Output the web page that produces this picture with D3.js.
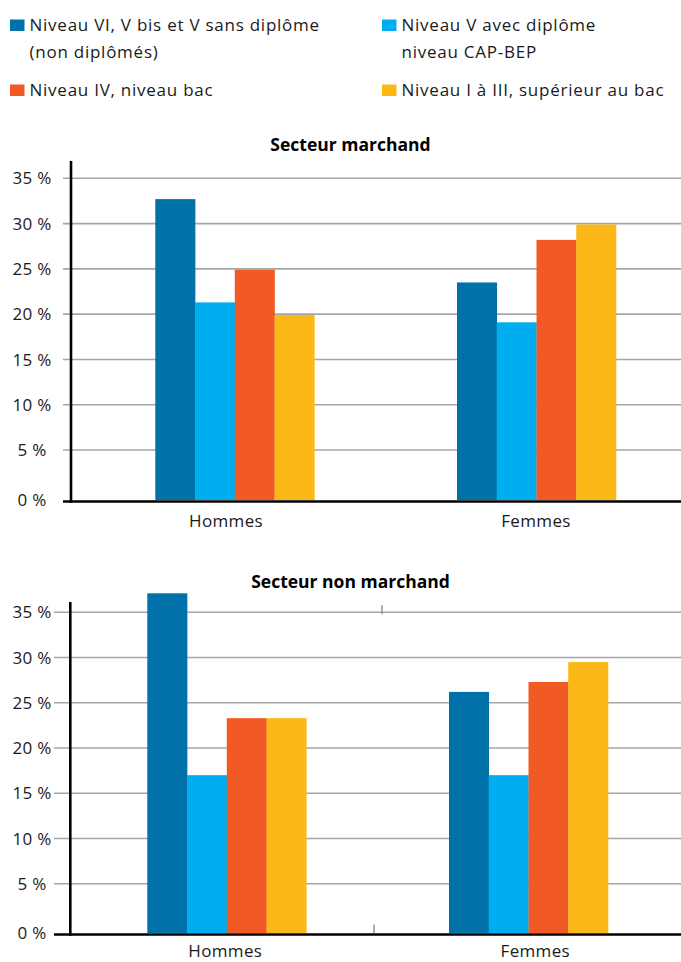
<!DOCTYPE html>
<html>
<head>
<meta charset="utf-8">
<script src="https://cdn.jsdelivr.net/npm/d3@7"></script>
<style>
  html, body { margin: 0; padding: 0; background: #fff; }
  svg { display: block; }
  text { font-family: "Open Sans", "Noto Sans", sans-serif; fill: #1a1a1a; }
</style>
</head>
<body>
<svg id="chart" width="681" height="962"></svg>
<script>
// ---- data ----
const groups = ["Hommes", "Femmes"];
const seriesKeys = ["nondip", "cap", "bac", "sup"];
const seriesLabels = [
  ["Niveau VI, V bis et V sans diplôme", "(non diplômés)"],
  ["Niveau V avec diplôme", "niveau CAP-BEP"],
  ["Niveau IV, niveau bac"],
  ["Niveau I à III, supérieur au bac"]
];
const seriesColors = ["#0072A9", "#00AEEF", "#F15A24", "#FBB817"];
const yTicks = [0, 5, 10, 15, 20, 25, 30, 35];
const chartTitles = ["Secteur marchand", "Secteur non marchand"];
// values in % : [Hommes, Femmes] per series
const marchand = {
  nondip: [32.7, 23.5],
  cap:    [21.3, 19.1],
  bac:    [24.9, 28.2],
  sup:    [19.9, 29.9]
};
const nonMarchand = {
  nondip: [37.1, 26.2],
  cap:    [17.0, 17.0],
  bac:    [23.3, 27.3],
  sup:    [23.3, 29.5]
};

const svg = d3.select("#chart");

// ---- legend ----
const legendPos = [
  {x: 10, y: 31}, {x: 382, y: 31}, {x: 10, y: 96}, {x: 382, y: 96}
];
const leg = svg.append("g");
seriesLabels.forEach((lines, i) => {
  const p = legendPos[i];
  leg.append("rect")
    .attr("x", p.x).attr("y", p.y - 11.5)
    .attr("width", 14.5).attr("height", 11.5)
    .attr("fill", seriesColors[i]);
  const t = leg.append("text")
    .attr("x", p.x + 19.5).attr("y", p.y)
    .style("font-size", "17px")
    .style("letter-spacing", "0.75px");
  lines.forEach((l, j) => {
    t.append("tspan").attr("x", p.x + 19.5).attr("dy", j === 0 ? 0 : 26.5).text(l);
  });
});

// ---- panels ----
function drawPanel(cfg) {
  const g = svg.append("g");
  const y = d3.scaleLinear().domain([0, 5, 35]).range(cfg.yRange);
  const xLab = d3.scaleBand().domain(groups).range([cfg.axisX, cfg.axisX + 620]);
  const x0 = d3.scaleBand().domain(groups).range(cfg.barRange).paddingInner(0.473);
  const x1 = d3.scaleBand().domain(seriesKeys).range([0, x0.bandwidth()]);

  // title
  g.append("text")
    .attr("x", 350.5).attr("y", cfg.titleY)
    .attr("text-anchor", "middle")
    .style("font-size", "17.5px").style("font-weight", "700")
    .style("fill", "#000")
    .text(cfg.title);

  // gridlines
  g.selectAll("line.grid").data(yTicks.filter(d => d > 0)).join("line")
    .attr("class", "grid")
    .attr("x1", cfg.gridX0).attr("x2", 681)
    .attr("y1", d => y(d)).attr("y2", d => y(d))
    .attr("stroke", "#A6A6A6").attr("stroke-width", 1.6);

  // tick labels
  g.selectAll("text.ytick").data(yTicks).join("text")
    .attr("class", "ytick")
    .attr("x", 32).attr("y", d => y(d))
    .attr("dy", "0.36em")
    .attr("text-anchor", "middle")
    .style("font-size", "17px")
    .style("letter-spacing", "0.3px")
    .text(d => d + " %");

  // bars
  const bars = [];
  seriesKeys.forEach((k, si) => {
    groups.forEach((gName, gi) => {
      bars.push({g: gName, k, v: cfg.data[k][gi], c: seriesColors[si]});
    });
  });
  g.selectAll("rect.bar").data(bars).join("rect")
    .attr("class", "bar")
    .attr("x", d => x0(d.g) + x1(d.k))
    .attr("width", x1.bandwidth() + 0.3)
    .attr("y", d => y(d.v))
    .attr("height", d => y(0) - y(d.v))
    .attr("fill", d => d.c);

  // small stray tick marks as in source
  cfg.marks.forEach(m => {
    g.append("line")
      .attr("x1", m.x).attr("x2", m.x)
      .attr("y1", y(m.v) + m.a).attr("y2", y(m.v) + m.b)
      .attr("stroke", "#8c8c8c").attr("stroke-width", 1.4);
  });

  // axes
  g.append("line")
    .attr("x1", cfg.axisX).attr("x2", cfg.axisX)
    .attr("y1", cfg.axisTop).attr("y2", y(0) + 2.8)
    .attr("stroke", "#000").attr("stroke-width", 2.6);
  g.append("line")
    .attr("x1", cfg.gridX0).attr("x2", 681)
    .attr("y1", y(0) + 1.5).attr("y2", y(0) + 1.5)
    .attr("stroke", "#000").attr("stroke-width", 2.6);

  // category labels
  g.selectAll("text.xlab").data(groups).join("text")
    .attr("class", "xlab")
    .attr("x", d => xLab(d) + xLab.bandwidth() / 2)
    .attr("y", cfg.xLabY)
    .attr("text-anchor", "middle")
    .style("font-size", "17px")
    .style("letter-spacing", "0.35px")
    .text(d => d);
}

drawPanel({
  title: chartTitles[0], titleY: 150.5, data: marchand,
  yRange: [500, 450, 178.3], axisX: 71, axisTop: 161, gridX0: 63,
  barRange: [155.3, 616], xLabY: 526.5, marks: []
});
drawPanel({
  title: chartTitles[1], titleY: 588.3, data: nonMarchand,
  yRange: [933, 883.7, 612.3], axisX: 70.3, axisTop: 602, gridX0: 54,
  barRange: [147.3, 608], xLabY: 957, 
  marks: [{x: 382, v: 35, a: -7, b: 2}, {x: 374, v: 0, a: -8.5, b: 0}]
});
</script>
</body>
</html>
